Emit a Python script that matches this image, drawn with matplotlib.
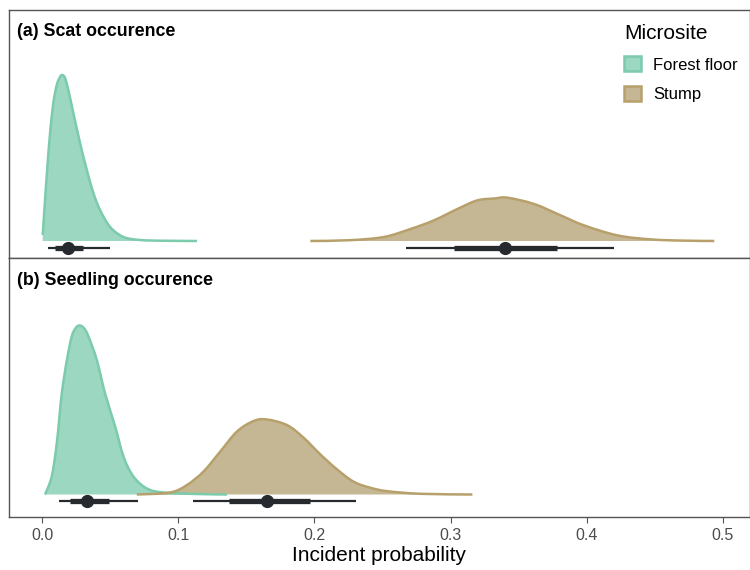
import numpy as np
import matplotlib
matplotlib.use("Agg")
import matplotlib.pyplot as plt
from matplotlib.patches import Patch, PathPatch
from matplotlib.path import Path

# ─────────────────────────────────────────────
# Data (density heights are relative)
# ─────────────────────────────────────────────

# (a) Scat occurence
scat_ff_x = [0.0005, 0.0022, 0.0039, 0.0059, 0.0083, 0.0108, 0.0132, 0.0149, 0.0169,
             0.0193, 0.0230, 0.0279, 0.0329, 0.0377, 0.0426, 0.0500, 0.0598, 0.0721,
             0.0870, 0.1138]
scat_ff_y = [6, 41, 74, 108, 138, 156, 164, 166, 163,
             151, 128, 98, 71, 48, 31, 14, 4, 1,
             0.3, 0]
scat_st_x = [0.197, 0.226, 0.251, 0.2706, 0.2877, 0.305, 0.3196, 0.3320, 0.3417,
             0.3613, 0.3809, 0.398, 0.4226, 0.4471, 0.470, 0.4936]
scat_st_y = [0, 0.8, 4, 12, 20.6, 32, 40.6, 42.5, 43.3,
             37, 25.6, 15.6, 5.6, 1.6, 0.4, 0]

# (b) Seedling occurence
seed_ff_x = [0.0022, 0.0071, 0.0108, 0.0145, 0.0182, 0.0218, 0.0250, 0.0279, 0.0310,
             0.0341, 0.0402, 0.0463, 0.0537, 0.0598, 0.0671, 0.0770, 0.0892, 0.1138,
             0.1358]
seed_ff_y = [0, 18, 51, 101, 134, 158, 167, 169, 166,
             158, 134.5, 101, 68, 38, 18, 6, 2, 0.5,
             0]
seed_st_x = [0.0696, 0.0941, 0.1064, 0.1186, 0.1309, 0.1432, 0.1554, 0.1652,
             0.1800, 0.1921, 0.2044, 0.2167, 0.2289, 0.2412, 0.2535, 0.2780, 0.3160]
seed_st_y = [0, 2, 9.5, 23, 43, 63, 73.5, 75,
             69.3, 56.7, 40, 25, 12.7, 6.7, 3.3, 0.7, 0]

# point intervals: median, (66% lo, hi), (95% lo, hi)
scat_ff_int = [0.019, (0.0096, 0.030), (0.0046, 0.050)]
scat_st_int = [0.3397, (0.3024, 0.3784), (0.267, 0.420)]
seed_ff_int = [0.0329, (0.0206, 0.0488), (0.0123, 0.0708)]
seed_st_int = [0.1652, (0.137, 0.197), (0.1108, 0.2309)]

panel_titles = ["(a) Scat occurence", "(b) Seedling occurence"]
groups = ["Forest floor", "Stump"]
x_ticks = [0.0, 0.1, 0.2, 0.3, 0.4, 0.5]

FILL = {"Forest floor": (0.40, 0.76, 0.63, 0.65), "Stump": (0.64, 0.55, 0.32, 0.62)}
EDGE = {"Forest floor": "#7bcbac", "Stump": "#b7a06b"}
INK = "#262a2e"
FONT = "Liberation Sans"


def smooth_path(x, y):
    # cubic bezier segments through the read points (rendering only)
    p = np.column_stack([x, y]).astype(float)
    verts, codes = [tuple(p[0])], [Path.MOVETO]
    n = len(p)
    for i in range(n - 1):
        p0 = p[max(i - 1, 0)]
        p3 = p[min(i + 2, n - 1)]
        c1 = p[i] + (p[i + 1] - p0) / 6
        c2 = p[i + 1] - (p3 - p[i]) / 6
        c1[1] = max(c1[1], 0)
        c2[1] = max(c2[1], 0)
        verts += [tuple(c1), tuple(c2), tuple(p[i + 1])]
        codes += [Path.CURVE4] * 3
    return verts, codes


def draw_halfeye(ax, x, y, interval, group, yint):
    verts, codes = smooth_path(x, y)
    fill_verts = [(x[0], 0)] + verts + [(x[-1], 0), (x[0], 0)]
    fill_codes = [Path.MOVETO, Path.LINETO] + codes[1:] + [Path.LINETO, Path.CLOSEPOLY]
    ax.add_patch(PathPatch(Path(fill_verts, fill_codes), facecolor=FILL[group],
                           lw=0, zorder=2))
    ax.add_patch(PathPatch(Path(verts, codes), fill=False, edgecolor=EDGE[group],
                           lw=1.8, zorder=3))
    med, inner, outer = interval
    ax.plot(outer, [yint, yint], color=INK, lw=1.6, zorder=4, solid_capstyle="butt")
    ax.plot(inner, [yint, yint], color=INK, lw=3.8, zorder=4, solid_capstyle="butt")
    ax.plot([med], [yint], "o", color=INK, ms=8.5, zorder=5)


fig = plt.figure(figsize=(7.5, 5.7), dpi=100)
ax_top = fig.add_axes([9 / 750, 1 - 258 / 570, 741 / 750, 248 / 570])
ax_bot = fig.add_axes([9 / 750, 1 - 517 / 570, 741 / 750, 259 / 570])

draw_halfeye(ax_top, scat_ff_x, scat_ff_y, scat_ff_int, "Forest floor", -6.7)
draw_halfeye(ax_top, scat_st_x, scat_st_y, scat_st_int, "Stump", -6.7)
draw_halfeye(ax_bot, seed_ff_x, seed_ff_y, seed_ff_int, "Forest floor", -6.5)
draw_halfeye(ax_bot, seed_st_x, seed_st_y, seed_st_int, "Stump", -6.5)

ax_top.set_ylim(-17, 231)
ax_bot.set_ylim(-22.5, 236.5)

xlim = (-33 / 1360, 0.5 + 27 / 1360)
for ax, title in zip([ax_top, ax_bot], panel_titles):
    ax.set_xlim(*xlim)
    ax.set_yticks([])
    for s in ax.spines.values():
        s.set_color("#555555")
        s.set_linewidth(1.0)
    ax.text(0.011, 0.915, title, transform=ax.transAxes, fontsize=12.8,
            fontweight="bold", family=FONT, va="center", ha="left")

ax_top.set_xticks([])
ax_bot.set_xticks(x_ticks)
ax_bot.set_xticklabels([f"{t:.1f}" for t in x_ticks], family=FONT,
                       fontsize=11.5, color="#4d4d4d")
ax_bot.tick_params(axis="x", length=4, color="#555555", pad=4)
ax_bot.set_xlabel("Incident probability", family=FONT, fontsize=15, labelpad=2)

handles = [Patch(facecolor=FILL[g], edgecolor=EDGE[g], lw=1.8, label=g) for g in groups]
leg = fig.legend(handles=handles, title="Microsite", loc="upper left",
                 bbox_to_anchor=(624 / 750, 1 - 24 / 570), frameon=False,
                 prop={"family": FONT, "size": 12},
                 handlelength=1.0, handleheight=1.0, handletextpad=0.75,
                 labelspacing=0.8, borderaxespad=0, borderpad=0)
leg.get_title().set_fontsize(15)
leg.get_title().set_family(FONT)
leg._legend_box.align = "left"

fig.savefig("out.png", dpi=100)
